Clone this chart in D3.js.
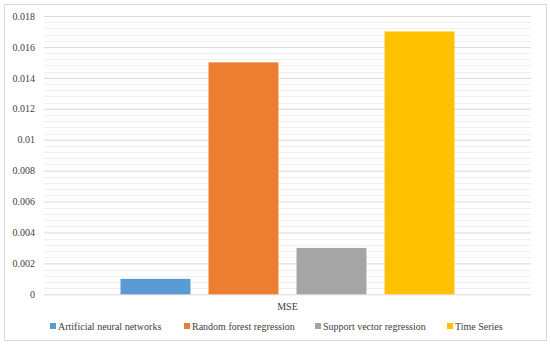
<!DOCTYPE html>
<html><head><meta charset="utf-8">
<script src="https://cdn.jsdelivr.net/npm/d3@7"></script>
<style>body{margin:0;background:#fff}svg{display:block}</style>
</head><body><svg id="c" width="550" height="347" font-family="'Liberation Serif'"></svg>
<script>
const categories = ["MSE"];
const seriesNames = ["Artificial neural networks","Random forest regression","Support vector regression","Time Series"];
const seriesValues = [0.001, 0.015, 0.003, 0.017];
const seriesColors = ["#5B9BD5","#ED7D31","#A5A5A5","#FFC000"];
const yTicks = [0,0.002,0.004,0.006,0.008,0.01,0.012,0.014,0.016,0.018];
const yTickLabels = ["0","0.002","0.004","0.006","0.008","0.01","0.012","0.014","0.016","0.018"];

const FONT = "'Liberation Serif'";
const svg = d3.select("#c");
svg.append("rect").attr("x",4.5).attr("y",4.5).attr("width",542).attr("height",336)
  .attr("fill","#fff").attr("stroke","#d9d9d9");
const m = {l:44, r:531, t:16, b:294.3};
const y = d3.scaleLinear().domain([0,0.018]).range([m.b,m.t]);
const x0 = d3.scaleBand().domain(categories).range([m.l,m.r]).paddingInner(0).paddingOuter(0.229);
const x1 = d3.scaleBand().domain(seriesNames).range([0,x0.bandwidth()]).paddingInner(0.205).paddingOuter(0);

// minor grid
const minor = d3.range(0,0.01801,0.0004).filter(v=>Math.abs(Math.round(v/0.002)*0.002-v)>1e-6);
svg.append("g").selectAll("line").data(minor).join("line")
  .attr("x1",m.l).attr("x2",m.r).attr("y1",d=>Math.round(y(d))+0.5).attr("y2",d=>Math.round(y(d))+0.5)
  .attr("stroke","#f0f0f0");
const yAxis = d3.axisLeft(y).tickValues(yTicks).tickFormat((d,i)=>yTickLabels[i]).tickSize(-(m.r-m.l)).tickPadding(9);
const ga = svg.append("g").attr("transform",`translate(${m.l},0)`).call(yAxis);
ga.attr("font-family",FONT).attr("font-size",10);
ga.select(".domain").remove();
ga.selectAll(".tick line").attr("stroke","#d9d9d9");
ga.selectAll(".tick text").attr("fill","#404040");

const g = svg.append("g");
categories.forEach((c)=>{
  g.selectAll("rect.bar").data(seriesValues).join("rect").attr("class","bar")
   .attr("x",(d,i)=>x0(c)+x1(seriesNames[i]))
   .attr("width",x1.bandwidth())
   .attr("y",d=>y(d)).attr("height",d=>y(0)-y(d))
   .attr("fill",(d,i)=>seriesColors[i]);
});
const xAxis = d3.axisBottom(x0).tickSize(0).tickPadding(9);
const gx = svg.append("g").attr("transform",`translate(0,${m.b})`).call(xAxis);
gx.attr("font-family",FONT).attr("font-size",10);
gx.select(".domain").remove();
gx.selectAll("text").attr("fill","#404040");

// legend
const legX = [50,184,315,447];
const lg = svg.append("g").attr("transform","translate(0,326)").attr("font-family",FONT).attr("font-size",10);
seriesNames.forEach((n,i)=>{
  lg.append("rect").attr("x",legX[i]).attr("y",-3).attr("width",6).attr("height",6).attr("fill",seriesColors[i]);
  lg.append("text").attr("x",legX[i]+8).attr("y",3.5).attr("fill","#404040").text(n);
});
</script></body></html>
